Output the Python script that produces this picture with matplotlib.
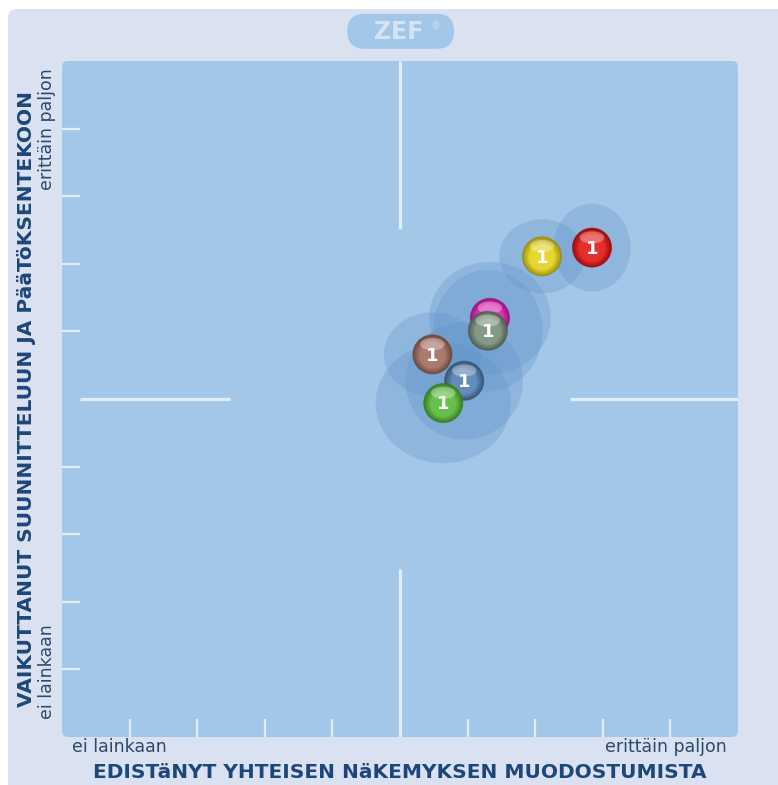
import numpy as np
import matplotlib
matplotlib.use("Agg")
import matplotlib.pyplot as plt
from matplotlib.patches import FancyBboxPatch, Ellipse, Circle
from matplotlib.colors import to_rgb

# ---------------- data ----------------
x_title = "EDISTäNYT YHTEISEN NäKEMYKSEN MUODOSTUMISTA"
y_title = "VAIKUTTANUT SUUNNITTELUUN JA PääTöKSENTEKOON"
scale_low = "ei lainkaan"
scale_high = "erittäin paljon"
scale_min, scale_max = 0, 10
ticks = [1, 2, 3, 4, 6, 7, 8, 9]

groups = ["red", "yellow", "magenta", "gray", "brown", "blue", "green"]
group_colors = ["#e41212", "#e4d016", "#e21cb4", "#748c76", "#a0695c", "#4e7daf", "#52b732"]
counts = [1, 1, 1, 1, 1, 1, 1]
x_vals = [7.84, 7.10, 6.33, 6.30, 5.48, 5.95, 5.64]
y_vals = [7.24, 7.11, 6.20, 6.01, 5.66, 5.27, 4.94]
spread_x = [0.57, 0.63, 0.90, 0.81, 0.72, 0.87, 1.00]
spread_y = [0.65, 0.55, 0.83, 0.90, 0.62, 0.87, 0.89]

# ---------------- style ----------------
W, H = 778, 785
fig = plt.figure(figsize=(W / 100, H / 100), dpi=100)
fig.patch.set_facecolor("white")

panel_col = "#dae1f0"
plot_col = "#a3c7e8"
line_col = "#e4ecf7"
title_col = "#1d477a"
label_col = "#2b4a6e"

# outer panel (background axes)
bg = fig.add_axes([0, 0, 1, 1], zorder=-10)
bg.set_xlim(0, W)
bg.set_ylim(H, 0)
bg.axis("off")
bg.add_patch(FancyBboxPatch((8, 9), W + 20, H + 20, boxstyle="round,pad=0,rounding_size=9",
                            facecolor=panel_col, edgecolor="none"))

left, right, top, bottom = 62, 738, 61, 737
ax = fig.add_axes([left / W, (H - bottom) / H, (right - left) / W, (bottom - top) / H], zorder=1)
ax.set_xlim(scale_min, scale_max)
ax.set_ylim(scale_min, scale_max)
ax.axis("off")

# plot background
ax.add_patch(FancyBboxPatch((scale_min, scale_min), scale_max - scale_min, scale_max - scale_min,
                            boxstyle="round,pad=0,rounding_size=0.09",
                            facecolor=plot_col, edgecolor="none", zorder=0, clip_on=False))

mid = (scale_min + scale_max) / 2
tl = 0.27
# center cross
ax.plot([mid, mid], [scale_max, 7.52], color=line_col, lw=2.3, solid_capstyle="butt", zorder=1)
ax.plot([mid, mid], [scale_min, 2.48], color=line_col, lw=2.3, solid_capstyle="butt", zorder=1)
ax.plot([tl, 2.48], [mid, mid], color=line_col, lw=2.3, solid_capstyle="butt", zorder=1)
ax.plot([7.52, scale_max], [mid, mid], color=line_col, lw=2.3, solid_capstyle="butt", zorder=1)
# ticks
for t in ticks:
    ax.plot([t, t], [scale_min, scale_min + tl], color=line_col, lw=1.6, solid_capstyle="butt", zorder=1)
    ax.plot([scale_min, scale_min + tl], [t, t], color=line_col, lw=1.6, solid_capstyle="butt", zorder=1)

# halos
for xv, yv, sx, sy in zip(x_vals, y_vals, spread_x, spread_y):
    ax.add_patch(Ellipse((xv, yv), 2 * sx, 2 * sy, facecolor="#5d8fc7", alpha=0.28,
                         edgecolor="none", zorder=2))

# glossy balls
R = 0.29


def ball(xc, yc, col, z):
    base = np.array(to_rgb(col))
    edge = base * 0.72
    light = base + (1 - base) * 0.12
    n = 12
    for i in range(n):
        t = i / (n - 1)
        rr = R * (1 - 0.75 * t)
        w = min(1.0, t * 2.2)
        c = edge * (1 - w) + light * w
        ax.add_patch(Circle((xc, yc - 0.1 * R * t), rr, facecolor=c, edgecolor="none", zorder=z))
    ax.add_patch(Ellipse((xc, yc + 0.52 * R), 1.25 * R, 0.62 * R, facecolor="white",
                         alpha=0.33, edgecolor="none", zorder=z + 0.01))
    ax.add_patch(Circle((xc, yc), R, facecolor="none", edgecolor=tuple(base * 0.6),
                        lw=0.6, alpha=0.5, zorder=z + 0.02))


for k, (xv, yv, col, cnt) in enumerate(zip(x_vals, y_vals, group_colors, counts)):
    z = 3 + k * 0.1
    ball(xv, yv, col, z)
    ax.text(xv, yv - 0.02, str(cnt), color="white", fontsize=13, fontweight="bold",
            ha="center", va="center", zorder=z + 0.05)

# scale labels
ax.text(0.15, -0.02, scale_low, color=label_col, fontsize=12.5, ha="left", va="top", clip_on=False)
ax.text(9.84, -0.02, scale_high, color=label_col, fontsize=12.5, ha="right", va="top", clip_on=False)
ax.text(-0.22, 9.9, scale_high, color=label_col, fontsize=12.5, rotation=90,
        ha="center", va="top", clip_on=False)
ax.text(-0.22, 0.27, scale_low, color=label_col, fontsize=12.5, rotation=90,
        ha="center", va="bottom", clip_on=False)

# axis titles
ax.text(4.99, -0.52, x_title, color=title_col, fontsize=14.5, fontweight="bold",
        ha="center", va="center", clip_on=False)
ax.text(-0.53, 5.0, y_title, color=title_col, fontsize=14.5, fontweight="bold", rotation=90,
        ha="center", va="center", clip_on=False)

# ZEF logo
ax.add_patch(FancyBboxPatch((4.22, 10.18), 1.58, 0.52, boxstyle="round,pad=0,rounding_size=0.26",
                            facecolor=plot_col, edgecolor="none", clip_on=False, zorder=1))
ax.text(4.98, 10.43, "ZEF", color="#d6e3f3", fontsize=17, fontweight="bold",
        ha="center", va="center", clip_on=False, zorder=2)
ax.text(5.53, 10.52, "®", color="#d6e3f3", fontsize=7, ha="center", va="center",
        clip_on=False, zorder=2)

fig.savefig("out.png", dpi=100, facecolor=fig.get_facecolor())
